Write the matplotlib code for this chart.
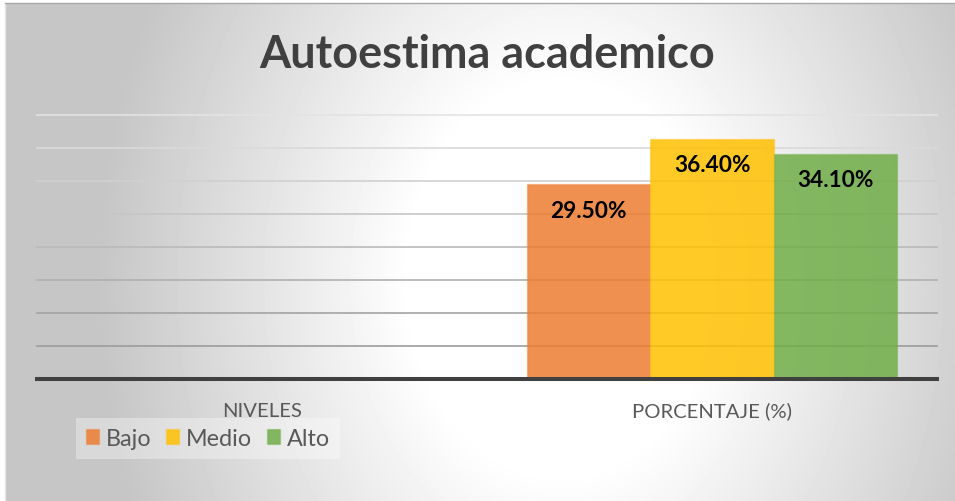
import numpy as np
import matplotlib
matplotlib.use('Agg')
import matplotlib.pyplot as plt
from matplotlib.colors import to_rgba

plt.rcParams['font.family'] = ['Lato', 'DejaVu Sans']

# datos del grafico
categorias = ['NIVELES', 'PORCENTAJE (%)']
series = ['Bajo', 'Medio', 'Alto']
bajo = [np.nan, 29.5]
medio = [np.nan, 36.4]
alto = [np.nan, 34.1]
colores = ['#ED7D31', '#FFC000', '#70AD47']
titulo = 'Autoestima academico'
marcas_y = [0, 5, 10, 15, 20, 25, 30, 35, 40]

W, H = 955, 502
fig = plt.figure(figsize=(W / 100, H / 100), dpi=100)
fig.patch.set_facecolor('white')

# fondo con degradado radial (gris en los bordes, blanco al centro)
bg = fig.add_axes([5 / W, 0, 950 / W, 498 / H], zorder=0)
xx, yy = np.meshgrid(np.arange(5, 955), np.arange(4, 502))
r = np.sqrt(((xx - 560) / 1.0) ** 2 + ((yy - 280) / 1.3) ** 2)
t = np.clip((r - 150) / (460 - 150), 0, 1)
gris = 1 - t * (1 - 198 / 255)
bg.imshow(gris, cmap='gray', vmin=0, vmax=1, aspect='auto', interpolation='bilinear')
bg.set_xticks([])
bg.set_yticks([])
for lado in ['right', 'bottom']:
    bg.spines[lado].set_visible(False)
bg.spines['top'].set_color('#a8a8a8')
bg.spines['left'].set_color('#e6e6e6')
bg.spines['top'].set_linewidth(1.0)
bg.spines['left'].set_linewidth(1.0)

ax = fig.add_axes([37 / W, (H - 380.3) / H, 900 / W, 264.3 / H], zorder=1)
ax.set_facecolor('none')

x = np.arange(len(categorias))
ancho = 0.274
valores = [bajo, medio, alto]
for i, (nombre, vals, c) in enumerate(zip(series, valores, colores)):
    pos = x + (i - 1) * ancho
    barras = ax.bar(pos, vals, ancho, label=nombre, facecolor=to_rgba(c, 0.85),
                    edgecolor=to_rgba(c, 0.35), linewidth=1.0, zorder=3)
    for p, v in zip(pos, vals):
        if not np.isnan(v):
            ax.annotate(f'{v:.2f}%', (p, v), xytext=(0, -26), textcoords='offset pixels',
                        ha='center', va='center', fontsize=16.3, fontweight='bold',
                        color='black', zorder=4)

ax.set_xlim(-0.5, len(categorias) - 0.5)
ax.set_ylim(0, 40)
ax.set_yticks(marcas_y)
ax.set_yticklabels([])
ax.tick_params(axis='y', length=0)
ax.tick_params(axis='x', length=0, pad=16, labelsize=14.6, labelcolor='#595959')
ax.set_xticks(x)
ax.set_xticklabels(categorias)

ax.yaxis.grid(True, linewidth=1.2, zorder=1)
ax.set_axisbelow(True)
tonos = ['#404040', '#9c9c9c', '#a3a3a3', '#b0b0b0', '#bababa', '#c6c6c6', '#d0d0d0', '#dadada', '#e3e3e3']
for linea, tono in zip(ax.get_ygridlines(), tonos):
    linea.set_color(tono)
    linea.set_clip_on(False)

for lado in ['top', 'right', 'left']:
    ax.spines[lado].set_visible(False)
ax.spines['bottom'].set_color('#404040')
ax.spines['bottom'].set_linewidth(2.9)
ax.spines['bottom'].set_zorder(5)

fig.text(487 / W, 1 - 55 / H, titulo, ha='center', va='center', fontsize=32.4,
         fontweight='bold', color='#404040')

leg = fig.legend(loc='upper left', bbox_to_anchor=(76 / W, 1 - 419 / H), ncol=3,
                 fontsize=16.8, frameon=True, fancybox=False, handlelength=0.56,
                 handleheight=0.56, handletextpad=0.3, columnspacing=0.63,
                 borderpad=0.42, borderaxespad=0)
leg.get_frame().set_facecolor('white')
leg.get_frame().set_alpha(0.35)
leg.get_frame().set_edgecolor('none')
for txt in leg.get_texts():
    txt.set_color('#595959')

fig.savefig('out.png', dpi=100)
